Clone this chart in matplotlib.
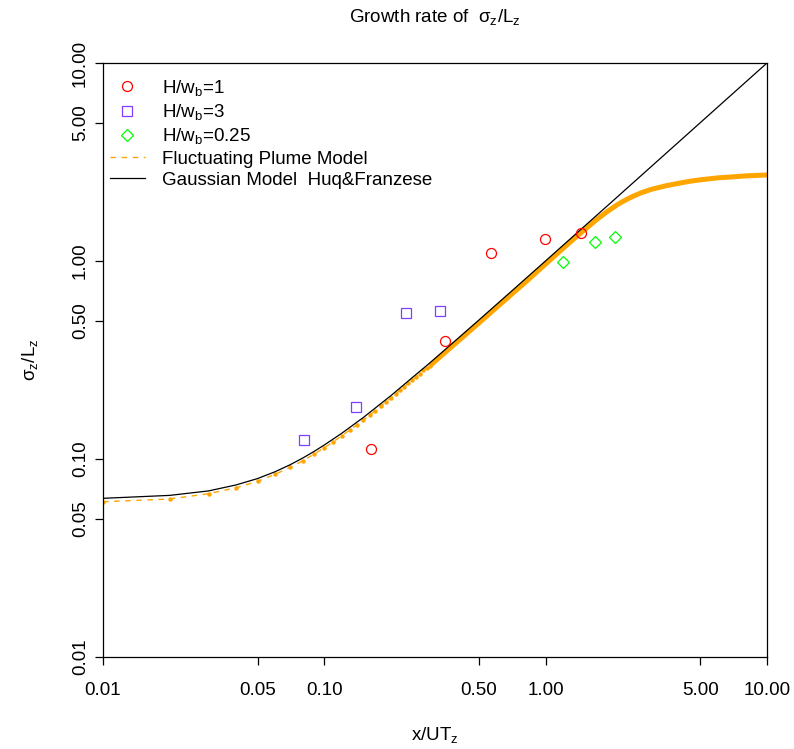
import matplotlib
matplotlib.use("Agg")
import matplotlib.pyplot as plt
from matplotlib.lines import Line2D
from matplotlib.ticker import FixedLocator, NullLocator, FixedFormatter

plt.rcParams['font.family'] = ['Liberation Sans', 'DejaVu Sans']
plt.rcParams['mathtext.fontset'] = 'custom'
plt.rcParams['mathtext.rm'] = 'Liberation Sans'
plt.rcParams['mathtext.it'] = 'Liberation Sans'
plt.rcParams['mathtext.default'] = 'regular'

# ---- data ----
h1_x = [0.163, 0.350, 0.564, 0.993, 1.440]
h1_y = [0.112, 0.393, 1.098, 1.292, 1.390]

h3_x = [0.081, 0.1385, 0.233, 0.334]
h3_y = [0.1247, 0.1824, 0.545, 0.561]

h025_x = [1.197, 1.672, 2.066]
h025_y = [0.992, 1.243, 1.320]

# Gaussian model (Huq & Franzese)
gauss_x = [0.01, 0.02, 0.03, 0.04, 0.05, 0.06, 0.07, 0.08, 0.09, 0.10, 0.12, 0.15,
           0.20, 0.25, 0.30, 0.40, 0.50, 0.70, 1.0, 2.0, 5.0, 10.0]
gauss_y = [0.0633, 0.0655, 0.0690, 0.0740, 0.0797, 0.0863, 0.0935, 0.1012, 0.1093,
           0.1177, 0.135, 0.162, 0.209, 0.258, 0.306, 0.405, 0.504, 0.703, 1.002,
           2.0, 5.0, 10.0]

# Fluctuating plume model: individual dots (sparse part)
fpm_dot_x = [0.01, 0.02, 0.03, 0.04, 0.05, 0.06, 0.07, 0.08, 0.09, 0.10,
             0.11, 0.12, 0.13, 0.14, 0.15, 0.16, 0.17, 0.18, 0.19, 0.20,
             0.21, 0.22, 0.23, 0.24, 0.25, 0.26, 0.27, 0.28, 0.29, 0.30]
fpm_dot_y = [0.0608, 0.0628, 0.0668, 0.0716, 0.0771, 0.0838, 0.0906, 0.0980, 0.1060, 0.1140,
             0.1224, 0.1310, 0.1400, 0.1486, 0.1574, 0.1663, 0.1755, 0.1847, 0.1940, 0.2030,
             0.213, 0.222, 0.232, 0.241, 0.251, 0.260, 0.270, 0.280, 0.289, 0.296]
# Fluctuating plume model: dense part (dots merge into a band)
fpm_band_x = [0.30, 0.40, 0.50, 0.60, 0.70, 0.80, 1.0, 1.2, 1.4, 1.6, 1.7, 1.8, 1.9, 2.0,
              2.1, 2.2, 2.35, 2.5, 2.7, 3.0, 3.5, 4.0, 4.5, 5.0, 6.0, 7.0, 8.0, 10.0]
fpm_band_y = [0.296, 0.392, 0.487, 0.583, 0.678, 0.772, 0.966, 1.16, 1.35, 1.53, 1.62, 1.70,
              1.78, 1.85, 1.92, 1.98, 2.06, 2.13, 2.21, 2.30, 2.40, 2.47, 2.53, 2.57,
              2.63, 2.66, 2.69, 2.72]

tick_vals = [0.01, 0.05, 0.10, 0.50, 1.00, 5.00, 10.00]
tick_labels = ["0.01", "0.05", "0.10", "0.50", "1.00", "5.00", "10.00"]

ORANGE = "#FFA500"
RED = "#FF0000"
PURPLE = "#7F3FFF"
GREEN = "#00FF00"
FS = 13.5

fig = plt.figure(figsize=(7.94, 7.49), dpi=100)
ax = fig.add_axes([103/794, 1-657/749, (767-103)/794, (657-63)/749])
ax.set_xscale('log')
ax.set_yscale('log')
ax.set_xlim(0.01, 10)
ax.set_ylim(0.01, 10)

# gaussian model
ax.plot(gauss_x, gauss_y, color='black', lw=0.9, zorder=3)
# fluctuating plume model
ax.plot(fpm_dot_x + fpm_band_x[1:], fpm_dot_y + fpm_band_y[1:], color=ORANGE, lw=1.0,
        ls=(0, (4, 4)), zorder=2)
ax.plot(fpm_dot_x, fpm_dot_y, ls='none', marker='o', ms=3.2, mfc=ORANGE, mec=ORANGE,
        mew=0, zorder=2)
ax.plot(fpm_band_x, fpm_band_y, color=ORANGE, lw=3.6, solid_capstyle='butt',
        solid_joinstyle='round', zorder=2)

ax.plot(h1_x, h1_y, ls='none', marker='o', ms=7.2, mfc='none', mec=RED, mew=0.9, zorder=4)
ax.plot(h3_x, h3_y, ls='none', marker='s', ms=6.5, mfc='none', mec=PURPLE, mew=0.9, zorder=4)
ax.plot(h025_x, h025_y, ls='none', marker='D', ms=6.2, mfc='none', mec=GREEN, mew=0.9, zorder=4)

for s in ax.spines.values():
    s.set_color('black')
    s.set_linewidth(0.9)

ax.xaxis.set_major_locator(FixedLocator(tick_vals))
ax.xaxis.set_major_formatter(FixedFormatter(tick_labels))
ax.yaxis.set_major_locator(FixedLocator(tick_vals))
ax.yaxis.set_major_formatter(FixedFormatter(tick_labels))
ax.xaxis.set_minor_locator(NullLocator())
ax.yaxis.set_minor_locator(NullLocator())
ax.tick_params(axis='both', direction='out', length=6, width=0.9, labelsize=FS)
ax.tick_params(axis='x', pad=12)
ax.tick_params(axis='y', pad=4)
for lab in ax.get_yticklabels():
    lab.set_rotation(90)
    lab.set_va('center')

fig.text(0.5*(103+767)/794, 1-17/749, r"Growth rate of  $\sigma_z/L_z$", ha='center', va='center',
         fontsize=FS)
fig.text(435/794, 1-735/749, r"$x/UT_z$", ha='center', va='center', fontsize=FS)
fig.text(30/794, 1-360/749, r"$\sigma_z/L_z$", ha='center', va='center', fontsize=FS,
         rotation=90)

handles = [
    Line2D([], [], ls='none', marker='o', ms=7.2, mfc='none', mec=RED, mew=0.9),
    Line2D([], [], ls='none', marker='s', ms=6.5, mfc='none', mec=PURPLE, mew=0.9),
    Line2D([], [], ls='none', marker='D', ms=6.2, mfc='none', mec=GREEN, mew=0.9),
    Line2D([], [], color=ORANGE, lw=1.0, ls=(0, (4, 4))),
    Line2D([], [], color='black', lw=0.9),
]
labels = [r"H/w$_b$=1", r"H/w$_b$=3", r"H/w$_b$=0.25", "Fluctuating Plume Model",
          "Gaussian Model  Huq&Franzese"]
leg = ax.legend(handles, labels, loc='upper left', bbox_to_anchor=(110/794, 1-78/749),
                bbox_transform=fig.transFigure, frameon=False, fontsize=FS,
                handlelength=1.85, handletextpad=0.95, labelspacing=0.22,
                borderpad=0, borderaxespad=0)

fig.savefig("out.png", dpi=100)
